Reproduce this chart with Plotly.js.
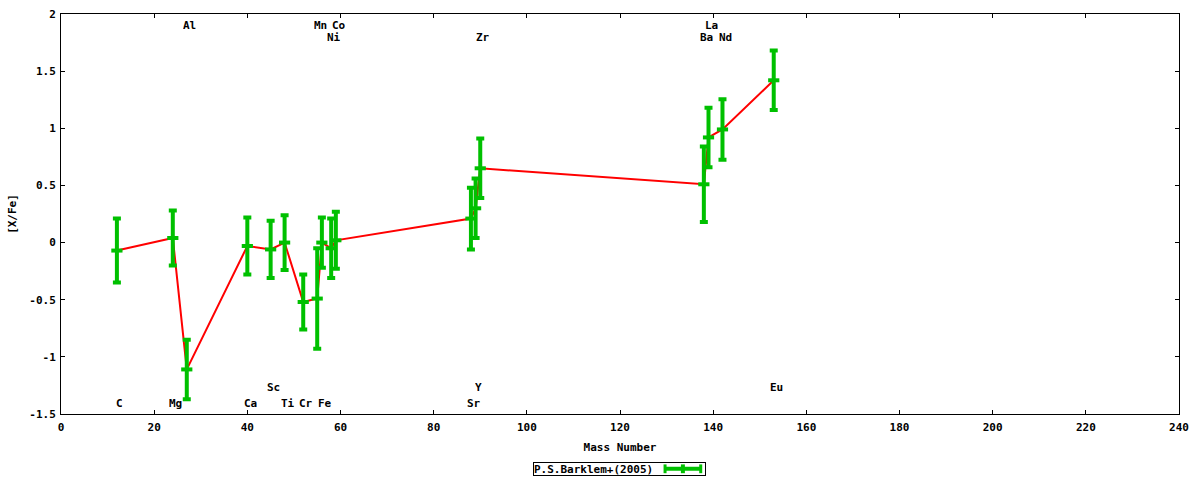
<!DOCTYPE html>
<html>
<head>
<meta charset="utf-8">
<script src="https://cdn.plot.ly/plotly-3.0.1.min.js"></script>
<style>
  html, body { margin: 0; padding: 0; background: #fff; }
  #chart { width: 1200px; height: 480px; }
</style>
</head>
<body>
<div id="chart"></div>
<script>
  // measured abundances, sorted by mass number
  var elements = ["C", "Mg", "Al", "Ca", "Sc", "Ti", "Cr", "Mn", "Fe", "Ni", "Co", "Sr", "Y", "Zr", "Ba", "La", "Nd", "Eu"];
  var mass = [12, 24, 27, 40, 45, 48, 52, 55, 56, 58, 59, 88, 89, 90, 138, 139, 142, 153];
  var xfe = [-0.07, 0.04, -1.11, -0.03, -0.06, 0.00, -0.52, -0.49, 0.00, -0.05, 0.02, 0.21, 0.30, 0.65, 0.51, 0.92, 0.99, 1.42];
  var xfeErr = [0.28, 0.24, 0.26, 0.25, 0.25, 0.24, 0.24, 0.44, 0.22, 0.26, 0.25, 0.27, 0.26, 0.26, 0.33, 0.26, 0.265, 0.26];

  // element name labels: which row they sit in
  var labelNames = ["Al", "Mn", "Co", "Ni", "Zr", "La", "Ba", "Nd", "Sc", "Y", "Eu", "C", "Mg", "Ca", "Ti", "Cr", "Fe", "Sr"];
  var labelMass = [27, 55, 59, 58, 90, 139, 138, 142, 45, 89, 153, 12, 24, 40, 48, 52, 56, 88];
  var labelRow = ["top1", "top1", "top1", "top2", "top2", "top1", "top2", "top2", "bot1", "bot1", "bot1", "bot2", "bot2", "bot2", "bot2", "bot2", "bot2", "bot2"];

  var xTicks = [0, 20, 40, 60, 80, 100, 120, 140, 160, 180, 200, 220, 240];
  var yTicks = [-1.5, -1, -0.5, 0, 0.5, 1, 1.5, 2];
  var yTickText = ["-1.5", "-1", "-0.5", "0", "0.5", "1", "1.5", "2"];

  var seriesName = "P.S.Barklem+(2005)";

  var green = "#00c000";
  var font = { family: "DejaVu Sans Mono, monospace", size: 11, color: "#000", weight: "bold" };
  var rowY = { top1: 1.897, top2: 1.798, bot1: -1.272, bot2: -1.412 };

  var annotations = labelNames.map(function (name, i) {
    return {
      x: labelMass[i], y: rowY[labelRow[i]], xref: "x", yref: "y",
      text: name, showarrow: false, xshift: 3, height: 11, font: font
    };
  });

  // gnuplot style key box under the plot, sample drawn to the right of the text
  var keyY = -0.137, keyX0 = 0.5403, keyX1 = 0.5722;
  annotations.push({
    x: 0.4222, y: keyY, xref: "paper", yref: "paper", xanchor: "left", yanchor: "middle",
    text: seriesName, showarrow: false, align: "left", width: 171, height: 12,
    borderpad: 0, bordercolor: "#000", borderwidth: 1, font: font
  });
  var keyLine = { color: green, width: 4 };
  var shapes = [
    { type: "line", xref: "paper", yref: "paper", x0: keyX0, x1: keyX1, y0: keyY, y1: keyY, line: keyLine },
    { type: "line", xref: "paper", yref: "paper", x0: keyX0, x1: keyX0, y0: keyY - 0.011, y1: keyY + 0.011, line: { color: green, width: 3 } },
    { type: "line", xref: "paper", yref: "paper", x0: keyX1, x1: keyX1, y0: keyY - 0.011, y1: keyY + 0.011, line: { color: green, width: 3 } },
    { type: "line", xref: "paper", yref: "paper", x0: (keyX0 + keyX1) / 2, x1: (keyX0 + keyX1) / 2, y0: keyY - 0.011, y1: keyY + 0.011, line: keyLine }
  ];

  var axisBase = {
    showline: true, linecolor: "#000", linewidth: 1, mirror: "ticks",
    ticks: "inside", ticklen: 4, tickwidth: 1, tickcolor: "#000",
    showgrid: false, zeroline: false, tickfont: font, fixedrange: true
  };

  Plotly.newPlot("chart", [{
    type: "scatter", mode: "lines", x: mass, y: xfe,
    line: { color: "#ff0000", width: 2 }, showlegend: false, hoverinfo: "skip"
  }, {
    type: "scatter", mode: "markers", x: mass, y: xfe, text: elements, name: seriesName,
    marker: { symbol: "line-ew", size: 8, line: { color: green, width: 4 } },
    error_y: { type: "data", array: xfeErr, visible: true, color: green, thickness: 4, width: 4 },
    showlegend: false,
    hovertemplate: "%{text}: %{y}<extra></extra>"
  }], {
    width: 1200, height: 480,
    margin: { l: 61, r: 21, t: 14, b: 66 },
    paper_bgcolor: "#fff", plot_bgcolor: "#fff",
    font: font,
    showlegend: false,
    xaxis: Object.assign({}, axisBase, {
      range: [0, 240], tickvals: xTicks, ticklabelstandoff: 3,
      title: { text: "Mass Number", font: font, standoff: 10 }
    }),
    yaxis: Object.assign({}, axisBase, {
      range: [-1.5, 2], tickvals: yTicks, ticktext: yTickText, ticklabelstandoff: 2,
      title: { text: "[X/Fe]", font: font, standoff: 10 }
    }),
    annotations: annotations,
    shapes: shapes
  }, { displayModeBar: false, responsive: false, staticPlot: true });
</script>
</body>
</html>
